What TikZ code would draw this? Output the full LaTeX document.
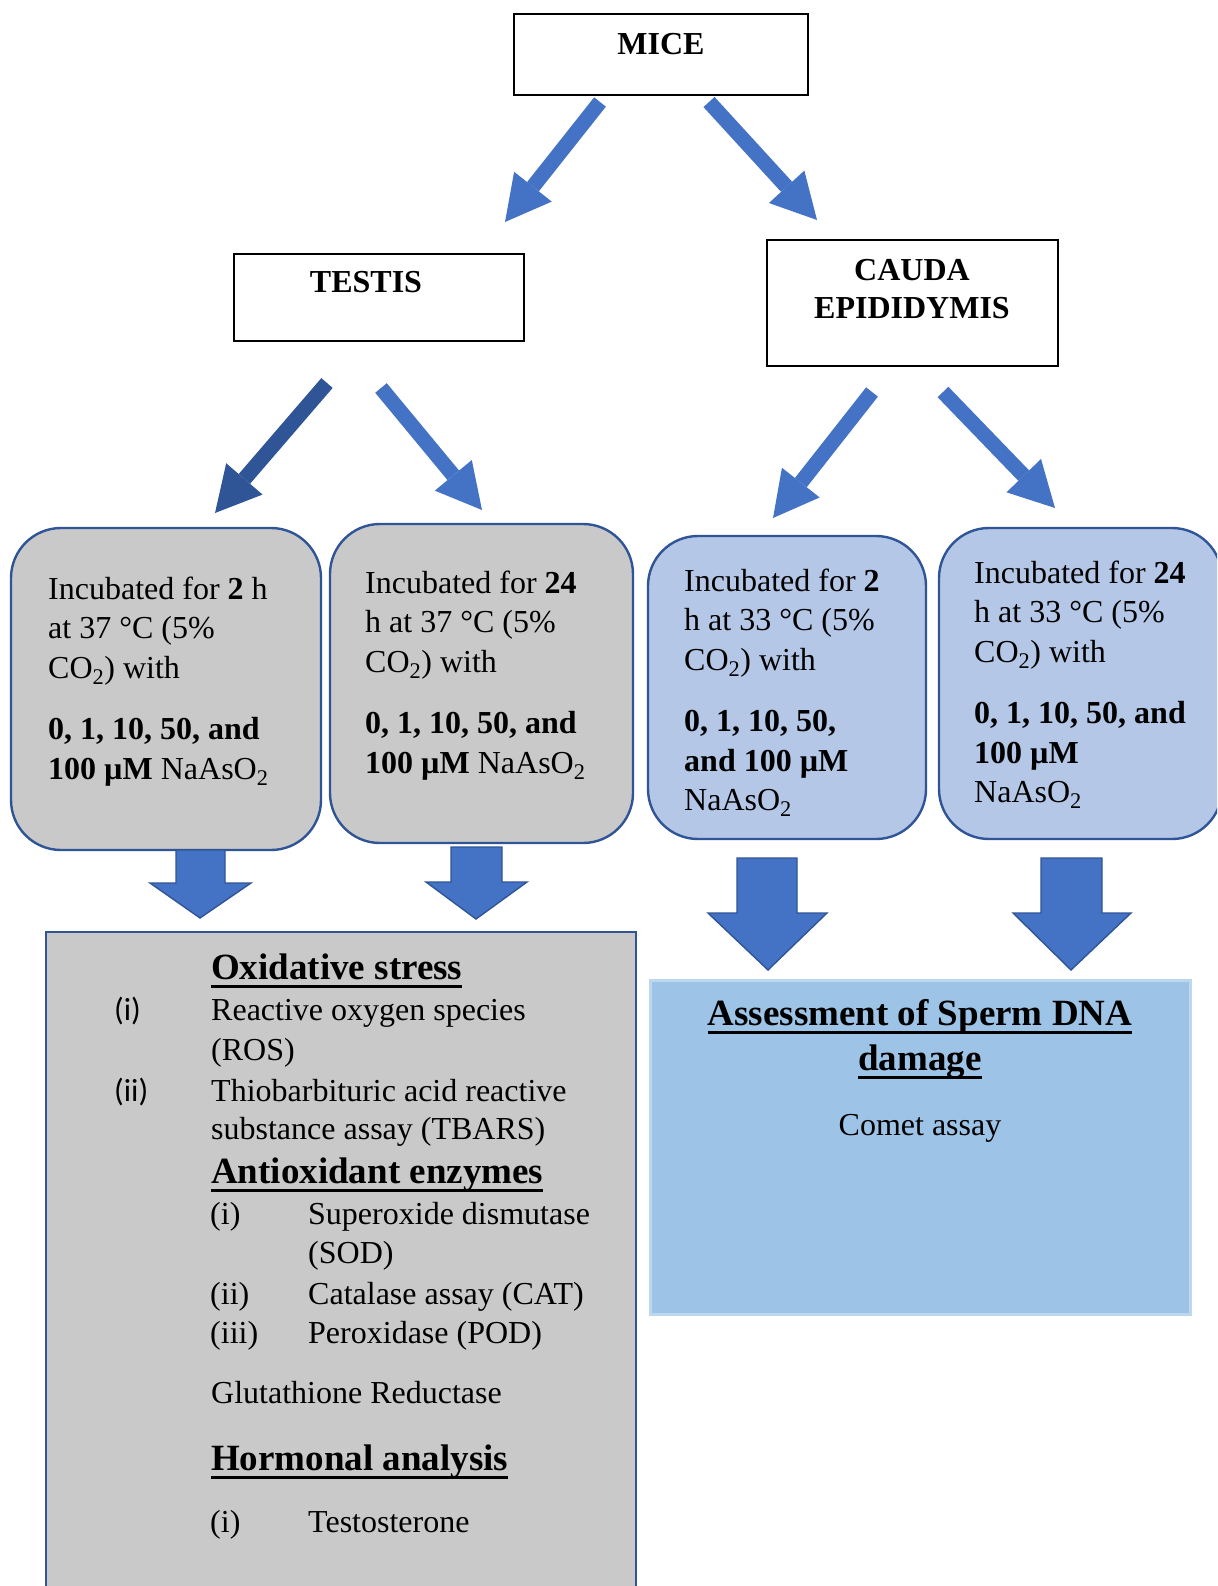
\documentclass[tikz,border=0pt]{standalone}
\usepackage{fontspec}
\setmainfont{Liberation Serif}
\newfontfamily\calibri{Carlito}
\usetikzlibrary{arrows.meta}

\definecolor{boxgray}{HTML}{C9C9C9}
\definecolor{boxblue}{HTML}{B4C7E7}
\definecolor{edgeblue}{HTML}{2F5597}
\definecolor{arrowblue}{HTML}{4472C4}
\definecolor{darkarrow}{HTML}{2F5597}
\definecolor{dnafill}{HTML}{9DC3E6}
\definecolor{dnaedge}{HTML}{BDD7EE}

\newcommand{\bodyfont}{\fontsize{32}{39.5}\selectfont}
\newcommand{\titlefont}{\fontsize{32}{38.5}\selectfont\bfseries}
\newcommand{\headfont}{\fontsize{37}{45}\selectfont\bfseries}
\newcommand{\labelfont}{\calibri\fontsize{32}{39.5}\selectfont}
% heading underline, Word style
\newcommand{\hdline}[1]{\setbox0=\hbox{#1}\rlap{\rule[-9pt]{\wd0}{3pt}}\box0}

\tikzset{
  titlebox/.style={draw=black, line width=1.2pt, fill=white},
  incubox/.style={draw=edgeblue, line width=2.4pt, rounded corners=50pt},
  title/.style={inner sep=0pt, anchor=base, font=\titlefont, align=center},
  txt/.style={inner sep=0pt, anchor=base west, font=\bodyfont, align=left},
  hd/.style={inner sep=0pt, anchor=base west, font=\headfont},
  fatarrow/.style={draw=arrowblue, line width=15pt,
    -{Triangle[width=48pt,length=45pt,line width=0pt]}},
  blockarrow/.style={fill=arrowblue, draw=edgeblue, line width=1.4pt},
}

\begin{document}
\begin{tikzpicture}[x=1pt,y=-1pt]
    \useasboundingbox (0,0) rectangle (1217,1586);
    \clip (0,0) rectangle (1217,1586);

    % organ boxes
    \node[titlebox, minimum width=294pt, minimum height=81pt] (mice) at (661,54.5) {};
    \node[title] (micetxt) at (661,55) {MICE};

    \node[titlebox, minimum width=290pt, minimum height=87pt] (testis) at (379,297.5) {};
    \node[title] (testistxt) at (366,293) {TESTIS};

    \node[titlebox, minimum width=291pt, minimum height=126pt] (cauda) at (912.5,303) {};
    % base = last line
    \node[title] (caudatxt) at (912,319) {CAUDA\\EPIDIDYMIS};

    % diagonal arrows
    \coordinate (ma) at (600,102);  \coordinate (mat) at (505,222);
    \coordinate (mb) at (709,102);  \coordinate (mbt) at (817,220);
    \coordinate (ta) at (327,383);  \coordinate (tat) at (215,513);
    \coordinate (tb) at (381,388);  \coordinate (tbt) at (482,510);
    \coordinate (ca) at (872,392);  \coordinate (cat) at (773,518);
    \coordinate (cb) at (943,392);  \coordinate (cbt) at (1055,508);

    \draw[fatarrow] (ma) -- (mat);
    \draw[fatarrow] (mb) -- (mbt);
    \draw[fatarrow, draw=darkarrow] (ta) -- (tat);
    \draw[fatarrow] (tb) -- (tbt);
    \draw[fatarrow] (ca) -- (cat);
    \draw[fatarrow] (cb) -- (cbt);

    % incubation boxes
    \node[incubox, fill=boxgray, minimum width=310pt, minimum height=322pt] (tes2) at (166,689) {};
    \node[incubox, fill=boxgray, minimum width=303pt, minimum height=319pt] (tes24) at (481.5,683.5) {};
    \node[incubox, fill=boxblue, minimum width=278pt, minimum height=303pt] (cau2) at (787,687.5) {};
    \node[incubox, fill=boxblue, minimum width=283pt, minimum height=311pt] (cau24) at (1080.5,683.5) {};

    % text placed at baseline of last line
    \node[txt] (tes2txt) at (48,779) {Incubated for \textbf{2} h\\at 37 °C (5\%\\CO\textsubscript{2}) with\\[22pt]\textbf{0, 1, 10, 50, and}\\\textbf{100 µM} NaAsO\textsubscript{2}};
    \node[txt] (tes24txt) at (365,773) {Incubated for \textbf{24}\\h at 37 °C (5\%\\CO\textsubscript{2}) with\\[22pt]\textbf{0, 1, 10, 50, and}\\\textbf{100 µM} NaAsO\textsubscript{2}};
    \node[txt] (cau2txt) at (684,810.5) {Incubated for \textbf{2}\\h at 33 °C (5\%\\CO\textsubscript{2}) with\\[22pt]\textbf{0, 1, 10, 50,}\\\textbf{and 100 µM}\\NaAsO\textsubscript{2}};
    \node[txt] (cau24txt) at (974,802.5) {Incubated for \textbf{24}\\h at 33 °C (5\%\\CO\textsubscript{2}) with\\[22pt]\textbf{0, 1, 10, 50, and}\\\textbf{100 µM}\\NaAsO\textsubscript{2}};

    % block arrows down
    \draw[blockarrow] (176,850) -- (225,850) -- (225,883) -- (251,883) -- (200,918) -- (150,883) -- (176,883) -- cycle;
    \draw[blockarrow] (451,847) -- (502,847) -- (502,882) -- (527,882) -- (476,919) -- (426,882) -- (451,882) -- cycle;
    \draw[blockarrow] (737,858) -- (797,858) -- (797,913) -- (827,913) -- (768,970) -- (708,913) -- (737,913) -- cycle;
    \draw[blockarrow] (1041,858) -- (1102,858) -- (1102,913) -- (1131,913) -- (1071,970) -- (1013,913) -- (1041,913) -- cycle;

    % result boxes
    \draw[fill=boxgray, draw=edgeblue, line width=2pt] (46,932) rectangle (636,1610);
    \draw[fill=dnafill, draw=dnaedge, line width=3pt] (650,980) rectangle (1190,1314);

    \node[hd] (oxhd) at (211,979) {\hdline{Oxidative stress}};
    \node[txt, font=\labelfont] (ox1n) at (114,1020) {(i)};
    \node[txt] (ox1) at (211,1020) {Reactive oxygen species};
    \node[txt] (ox1b) at (211,1060) {(ROS)};
    \node[txt, font=\labelfont] (ox2n) at (114,1101) {(ii)};
    \node[txt] (ox2) at (211,1101) {Thiobarbituric acid reactive};
    \node[txt] (ox2b) at (211,1139) {substance assay (TBARS)};

    \node[hd] (anhd) at (211,1183) {\hdline{Antioxidant enzymes}};
    \node[txt] (an1n) at (210,1224) {(i)};
    \node[txt] (an1) at (308,1224) {Superoxide dismutase};
    \node[txt] (an1b) at (308,1263) {(SOD)};
    \node[txt] (an2n) at (210,1304) {(ii)};
    \node[txt] (an2) at (308,1304) {Catalase assay (CAT)};
    \node[txt] (an3n) at (210,1343) {(iii)};
    \node[txt] (an3) at (308,1343) {Peroxidase (POD)};
    \node[txt] (glut) at (211,1403) {Glutathione Reductase};

    \node[hd] (hohd) at (211,1470) {\hdline{Hormonal analysis}};
    \node[txt] (ho1n) at (210,1532) {(i)};
    \node[txt] (ho1) at (308,1532) {Testosterone};

    \node[hd, anchor=base] (dnahd) at (920,1025) {\hdline{Assessment of Sperm DNA}};
    \node[hd, anchor=base] (dnahdb) at (920,1070) {\hdline{damage}};
    \node[txt, anchor=base] (comet) at (920,1135) {Comet assay};

\end{tikzpicture}
\end{document}
